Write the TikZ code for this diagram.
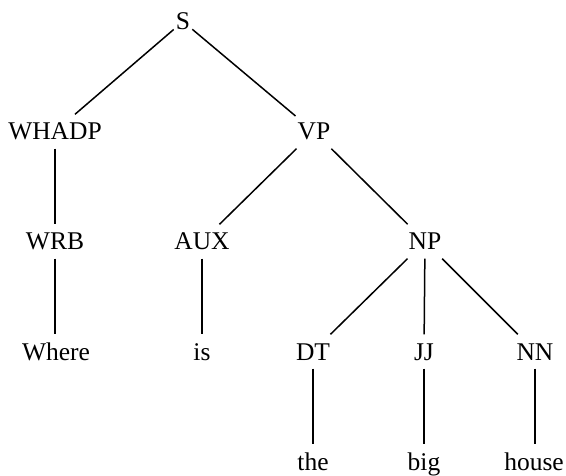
\documentclass[tikz,border=0pt]{standalone}
\usepackage{fontspec}
\newfontfamily\treefont{Liberation Serif}
\begin{document}
\begin{tikzpicture}[x=1pt,y=-1pt,
  tn/.style={font=\treefont\fontsize{25.5}{25.5}\selectfont, text height=17pt, text depth=0pt,
             inner ysep=8.5pt, inner xsep=2pt, anchor=center},
  edge/.style={line width=1.5pt, black}]
  \useasboundingbox (0,0) rectangle (566,476);
  % nodes, placed by the vertical centre of their capitals
  \node[tn] (S)     at (183,21.5)  {S};
  \node[tn] (WHADP) at (55,131.5)  {WHADP};
  \node[tn] (VP)    at (314,131.5) {VP};
  \node[tn] (WRB)   at (55,241.5)  {WRB};
  \node[tn] (AUX)   at (202,241.5) {AUX};
  \node[tn] (NP)    at (425,241.5) {NP};
  \node[tn] (Where) at (56,351.5)  {Where};
  \node[tn] (is)    at (202,351.5) {is};
  \node[tn] (DT)    at (313,351.5) {DT};
  \node[tn] (JJ)    at (424,351.5) {JJ};
  \node[tn] (NN)    at (535,351.5) {NN};
  \node[tn] (the)   at (313,461.5) {the};
  \node[tn] (big)   at (424,461.5) {big};
  \node[tn] (house) at (534,461.5) {house};
  % branches
  \draw[edge] (S) -- (WHADP);
  \draw[edge] (S) -- (VP);
  \draw[edge] (WHADP) -- (WRB);
  \draw[edge] (VP) -- (AUX);
  \draw[edge] (VP) -- (NP);
  \draw[edge] (WRB.south -| WRB) -- (Where.north -| WRB);
  \draw[edge] (AUX.south) -- (is.north -| AUX);
  \draw[edge] (NP) -- (DT);
  \draw[edge] (NP) -- (JJ);
  \draw[edge] (NP) -- (NN);
  \draw[edge] (DT) -- (the);
  \draw[edge] (JJ) -- (big);
  \draw[edge] (NN.south) -- (house.north -| NN);
\end{tikzpicture}
\end{document}
